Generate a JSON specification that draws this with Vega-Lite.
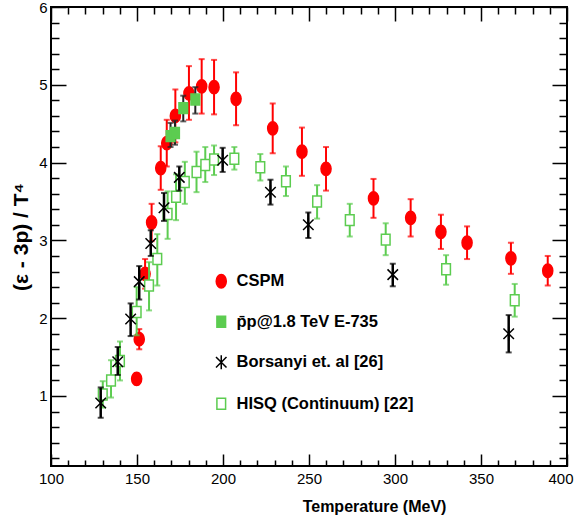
{
  "$schema": "https://vega.github.io/schema/vega-lite/v6.json",
  "width": 516,
  "height": 459,
  "autosize": {"type": "none"},
  "padding": {"left": 51, "top": 7, "right": 10, "bottom": 58},
  "background": "white",
  "config": {
    "view": {"stroke": "black", "strokeWidth": 2},
    "axis": {
      "grid": false,
      "domain": false,
      "tickColor": "black",
      "tickWidth": 1.5,
      "labelFont": "Liberation Sans, Arial",
      "labelFontSize": 15,
      "labelColor": "black",
      "labelFlush": false,
      "titleFont": "Liberation Sans, Arial",
      "titleFontWeight": "bold",
      "titleColor": "black",
      "titleFontSize": 16
    }
  },
  "datasets": {
    "cspm": [
      {"series": "CSPM", "T": 149.8, "v": 1.22, "lo": 1.15, "hi": 1.29},
      {"series": "CSPM", "T": 151.3, "v": 1.73, "lo": 1.60, "hi": 1.86},
      {"series": "CSPM", "T": 154.7, "v": 2.57, "lo": 2.38, "hi": 2.76},
      {"series": "CSPM", "T": 158.5, "v": 3.23, "lo": 2.99, "hi": 3.47},
      {"series": "CSPM", "T": 163.8, "v": 3.93, "lo": 3.65, "hi": 4.21},
      {"series": "CSPM", "T": 167.3, "v": 4.25, "lo": 3.95, "hi": 4.55},
      {"series": "CSPM", "T": 172.3, "v": 4.60, "lo": 4.26, "hi": 4.94},
      {"series": "CSPM", "T": 180.2, "v": 4.89, "lo": 4.55, "hi": 5.24},
      {"series": "CSPM", "T": 187.6, "v": 4.98, "lo": 4.63, "hi": 5.33},
      {"series": "CSPM", "T": 194.8, "v": 4.97, "lo": 4.62, "hi": 5.32},
      {"series": "CSPM", "T": 207.6, "v": 4.82, "lo": 4.48, "hi": 5.16},
      {"series": "CSPM", "T": 228.9, "v": 4.44, "lo": 4.12, "hi": 4.76},
      {"series": "CSPM", "T": 245.9, "v": 4.14, "lo": 3.83, "hi": 4.45},
      {"series": "CSPM", "T": 259.9, "v": 3.92, "lo": 3.64, "hi": 4.20},
      {"series": "CSPM", "T": 287.5, "v": 3.54, "lo": 3.29, "hi": 3.79},
      {"series": "CSPM", "T": 309.1, "v": 3.29, "lo": 3.05, "hi": 3.53},
      {"series": "CSPM", "T": 326.7, "v": 3.11, "lo": 2.89, "hi": 3.33},
      {"series": "CSPM", "T": 341.9, "v": 2.97, "lo": 2.76, "hi": 3.18},
      {"series": "CSPM", "T": 367.4, "v": 2.77, "lo": 2.57, "hi": 2.97},
      {"series": "CSPM", "T": 388.8, "v": 2.61, "lo": 2.42, "hi": 2.80}
    ],
    "e735": [
      {"series": "p̄p@1.8 TeV E-735", "T": 169.5, "v": 4.34, "lo": 4.20, "hi": 4.51},
      {"series": "p̄p@1.8 TeV E-735", "T": 172.1, "v": 4.38, "lo": 4.23, "hi": 4.54},
      {"series": "p̄p@1.8 TeV E-735", "T": 176.9, "v": 4.70, "lo": 4.53, "hi": 4.86},
      {"series": "p̄p@1.8 TeV E-735", "T": 183.9, "v": 4.81, "lo": 4.63, "hi": 4.97}
    ],
    "bors": [
      {"series": "Borsanyi et. al [26]", "T": 128.9, "v": 0.91, "lo": 0.72, "hi": 1.11},
      {"series": "Borsanyi et. al [26]", "T": 138.8, "v": 1.44, "lo": 1.27, "hi": 1.63},
      {"series": "Borsanyi et. al [26]", "T": 146.3, "v": 1.99, "lo": 1.77, "hi": 2.19},
      {"series": "Borsanyi et. al [26]", "T": 151.3, "v": 2.47, "lo": 2.24, "hi": 2.67},
      {"series": "Borsanyi et. al [26]", "T": 158.0, "v": 2.96, "lo": 2.80, "hi": 3.13},
      {"series": "Borsanyi et. al [26]", "T": 165.7, "v": 3.42, "lo": 3.25, "hi": 3.61},
      {"series": "Borsanyi et. al [26]", "T": 174.6, "v": 3.81, "lo": 3.64, "hi": 3.95},
      {"series": "Borsanyi et. al [26]", "T": 199.8, "v": 4.03, "lo": 3.88, "hi": 4.19},
      {"series": "Borsanyi et. al [26]", "T": 227.6, "v": 3.62, "lo": 3.46, "hi": 3.78},
      {"series": "Borsanyi et. al [26]", "T": 249.6, "v": 3.20, "lo": 3.03, "hi": 3.36},
      {"series": "Borsanyi et. al [26]", "T": 298.7, "v": 2.56, "lo": 2.41, "hi": 2.70},
      {"series": "Borsanyi et. al [26]", "T": 366.1, "v": 1.80, "lo": 1.56, "hi": 2.04}
    ],
    "hisq": [
      {"series": "HISQ (Continuum) [22]", "T": 130.1, "v": 1.02, "lo": 0.85, "hi": 1.19},
      {"series": "HISQ (Continuum) [22]", "T": 134.9, "v": 1.20, "lo": 0.98, "hi": 1.46},
      {"series": "HISQ (Continuum) [22]", "T": 140.1, "v": 1.45, "lo": 1.20, "hi": 1.70},
      {"series": "HISQ (Continuum) [22]", "T": 149.8, "v": 2.08, "lo": 1.78, "hi": 2.40},
      {"series": "HISQ (Continuum) [22]", "T": 157.0, "v": 2.42, "lo": 2.10, "hi": 2.72},
      {"series": "HISQ (Continuum) [22]", "T": 161.8, "v": 2.76, "lo": 2.42, "hi": 3.08},
      {"series": "HISQ (Continuum) [22]", "T": 167.8, "v": 3.34, "lo": 3.02, "hi": 3.63},
      {"series": "HISQ (Continuum) [22]", "T": 172.7, "v": 3.56, "lo": 3.26, "hi": 3.85},
      {"series": "HISQ (Continuum) [22]", "T": 177.8, "v": 3.75, "lo": 3.47, "hi": 4.01},
      {"series": "HISQ (Continuum) [22]", "T": 184.6, "v": 3.88, "lo": 3.62, "hi": 4.14},
      {"series": "HISQ (Continuum) [22]", "T": 189.7, "v": 3.97, "lo": 3.75, "hi": 4.20},
      {"series": "HISQ (Continuum) [22]", "T": 194.8, "v": 4.04, "lo": 3.84, "hi": 4.22},
      {"series": "HISQ (Continuum) [22]", "T": 206.6, "v": 4.05, "lo": 3.91, "hi": 4.20},
      {"series": "HISQ (Continuum) [22]", "T": 221.7, "v": 3.94, "lo": 3.77, "hi": 4.11},
      {"series": "HISQ (Continuum) [22]", "T": 236.6, "v": 3.76, "lo": 3.57, "hi": 3.95},
      {"series": "HISQ (Continuum) [22]", "T": 254.7, "v": 3.50, "lo": 3.28, "hi": 3.71},
      {"series": "HISQ (Continuum) [22]", "T": 273.7, "v": 3.26, "lo": 3.05, "hi": 3.47},
      {"series": "HISQ (Continuum) [22]", "T": 294.6, "v": 3.01, "lo": 2.81, "hi": 3.22},
      {"series": "HISQ (Continuum) [22]", "T": 329.7, "v": 2.63, "lo": 2.43, "hi": 2.81},
      {"series": "HISQ (Continuum) [22]", "T": 369.6, "v": 2.23, "lo": 2.02, "hi": 2.44}
    ]
  },
  "layer": [
    {
      "data": {"name": "cspm"},
      "mark": {"type": "point", "opacity": 0},
      "encoding": {
        "x": {"field": "T", "type": "quantitative", "scale": {"domain": [100, 400], "nice": false, "zero": false},
          "axis": {"orient": "bottom", "values": [100, 150, 200, 250, 300, 350, 400], "tickSize": 12, "offset": -12, "labelPadding": 5,
            "labelAlign": {"condition": {"test": "datum.value === 400", "value": "right"}, "value": "center"},
            "labelOffset": {"condition": {"test": "datum.value === 400", "value": 6}, "value": 0},
            "title": "Temperature (MeV)", "titleX": 323, "titleAlign": "center", "titlePadding": 12}},
        "y": {"field": "v", "type": "quantitative", "scale": {"domain": [0.1, 6], "nice": false, "zero": false},
          "axis": {"orient": "left", "values": [1, 2, 3, 4, 5, 6], "tickSize": 15, "offset": -15, "labelPadding": 4,
            "title": "(ε - 3p) / T⁴", "titleFontSize": 21, "titlePadding": 7}}
      }
    },
    {
      "data": {"name": "cspm"},
      "mark": {"type": "point", "opacity": 0},
      "encoding": {
        "x": {"field": "T", "type": "quantitative", "scale": {"domain": [100, 400], "nice": false, "zero": false},
          "axis": {"orient": "bottom", "values": [110, 120, 130, 140, 160, 170, 180, 190, 210, 220, 230, 240, 260, 270, 280, 290, 310, 320, 330, 340, 360, 370, 380, 390], "tickSize": 6, "offset": -6, "labels": false, "title": null}},
        "y": {"field": "v", "type": "quantitative", "scale": {"domain": [0.1, 6], "nice": false, "zero": false},
          "axis": {"orient": "left", "values": [0.2, 0.4, 0.6, 0.8, 1.2, 1.4, 1.6, 1.8, 2.2, 2.4, 2.6, 2.8, 3.2, 3.4, 3.6, 3.8, 4.2, 4.4, 4.6, 4.8, 5.2, 5.4, 5.6, 5.8], "tickSize": 8, "offset": -8, "labels": false, "title": null}}
      }
    },
    {
      "data": {"name": "cspm"},
      "mark": {"type": "point", "opacity": 0},
      "encoding": {
        "x": {"field": "T", "type": "quantitative", "scale": {"domain": [100, 400], "nice": false, "zero": false},
          "axis": {"orient": "top", "values": [100, 150, 200, 250, 300, 350, 400], "tickSize": 14, "offset": -14, "labels": false, "title": null}},
        "y": {"field": "v", "type": "quantitative", "scale": {"domain": [0.1, 6], "nice": false, "zero": false},
          "axis": {"orient": "right", "values": [1, 2, 3, 4, 5, 6], "tickSize": 15, "offset": -15, "labels": false, "title": null}}
      }
    },
    {
      "data": {"name": "cspm"},
      "mark": {"type": "point", "opacity": 0},
      "encoding": {
        "x": {"field": "T", "type": "quantitative", "scale": {"domain": [100, 400], "nice": false, "zero": false},
          "axis": {"orient": "top", "values": [110, 120, 130, 140, 160, 170, 180, 190, 210, 220, 230, 240, 260, 270, 280, 290, 310, 320, 330, 340, 360, 370, 380, 390], "tickSize": 7, "offset": -7, "labels": false, "title": null}},
        "y": {"field": "v", "type": "quantitative", "scale": {"domain": [0.1, 6], "nice": false, "zero": false},
          "axis": {"orient": "right", "values": [0.2, 0.4, 0.6, 0.8, 1.2, 1.4, 1.6, 1.8, 2.2, 2.4, 2.6, 2.8, 3.2, 3.4, 3.6, 3.8, 4.2, 4.4, 4.6, 4.8, 5.2, 5.4, 5.6, 5.8], "tickSize": 8, "offset": -8, "labels": false, "title": null}}
      }
    },
    {
      "data": {"name": "cspm"},
      "mark": {"type": "errorbar", "color": "#ff0000", "thickness": 2, "ticks": {"size": 6, "thickness": 2, "color": "#ff0000"}},
      "encoding": {
        "x": {"field": "T", "type": "quantitative", "scale": {"domain": [100, 400], "nice": false, "zero": false}, "axis": null},
        "y": {"field": "lo", "type": "quantitative", "scale": {"domain": [0.1, 6], "nice": false, "zero": false}, "axis": null},
        "y2": {"field": "hi"}
      }
    },
    {
      "data": {"name": "cspm"},
      "mark": {"type": "point", "opacity": 1, "size": 196, "strokeWidth": 1.5},
      "encoding": {
        "x": {"field": "T", "type": "quantitative", "scale": {"domain": [100, 400], "nice": false, "zero": false}, "axis": null},
        "y": {"field": "v", "type": "quantitative", "scale": {"domain": [0.1, 6], "nice": false, "zero": false}, "axis": null},
        "shape": {"field": "series", "type": "nominal", "scale": {"domain": ["CSPM", "p̄p@1.8 TeV E-735", "Borsanyi et. al [26]", "HISQ (Continuum) [22]"], "range": ["M-0.72,0A0.72,0.95 0 1,1 0.72,0A0.72,0.95 0 1,1 -0.72,0Z", "M-0.62,-0.78H0.62V0.78H-0.62Z", "M0,-1V1M-0.75,-0.75L0.75,0.75M-0.75,0.75L0.75,-0.75", "M-0.62,-0.78H0.62V0.78H-0.62Z"]},
          "legend": {"orient": "none", "legendX": 162, "legendY": 266, "title": null, "padding": 0, "rowPadding": 21.5, "labelOffset": 7, "symbolSize": 196, "symbolStrokeWidth": 1.5, "labelFont": "Liberation Sans, Arial", "labelFontSize": 16.5, "labelFontWeight": "bold", "labelColor": "black", "labelLimit": 400}},
        "fill": {"field": "series", "type": "nominal", "scale": {"domain": ["CSPM", "p̄p@1.8 TeV E-735", "Borsanyi et. al [26]", "HISQ (Continuum) [22]"], "range": ["#ff0000", "#5ccc50", "transparent", "white"]}},
        "stroke": {"field": "series", "type": "nominal", "scale": {"domain": ["CSPM", "p̄p@1.8 TeV E-735", "Borsanyi et. al [26]", "HISQ (Continuum) [22]"], "range": ["#ff0000", "#5ccc50", "black", "#5ccc50"]}}
      }
    },
    {
      "data": {"name": "e735"},
      "mark": {"type": "errorbar", "color": "#222222", "thickness": 2, "ticks": {"size": 6, "thickness": 2, "color": "#222222"}},
      "encoding": {
        "x": {"field": "T", "type": "quantitative", "scale": {"domain": [100, 400], "nice": false, "zero": false}, "axis": null},
        "y": {"field": "lo", "type": "quantitative", "scale": {"domain": [0.1, 6], "nice": false, "zero": false}, "axis": null},
        "y2": {"field": "hi"}
      }
    },
    {
      "data": {"name": "e735"},
      "mark": {"type": "point", "opacity": 1, "size": 196, "strokeWidth": 1.5},
      "encoding": {
        "x": {"field": "T", "type": "quantitative", "scale": {"domain": [100, 400], "nice": false, "zero": false}, "axis": null},
        "y": {"field": "v", "type": "quantitative", "scale": {"domain": [0.1, 6], "nice": false, "zero": false}, "axis": null},
        "shape": {"field": "series", "type": "nominal", "scale": {"domain": ["CSPM", "p̄p@1.8 TeV E-735", "Borsanyi et. al [26]", "HISQ (Continuum) [22]"], "range": ["M-0.72,0A0.72,0.95 0 1,1 0.72,0A0.72,0.95 0 1,1 -0.72,0Z", "M-0.62,-0.78H0.62V0.78H-0.62Z", "M0,-1V1M-0.75,-0.75L0.75,0.75M-0.75,0.75L0.75,-0.75", "M-0.62,-0.78H0.62V0.78H-0.62Z"]}},
        "fill": {"field": "series", "type": "nominal", "scale": {"domain": ["CSPM", "p̄p@1.8 TeV E-735", "Borsanyi et. al [26]", "HISQ (Continuum) [22]"], "range": ["#ff0000", "#5ccc50", "transparent", "white"]}},
        "stroke": {"field": "series", "type": "nominal", "scale": {"domain": ["CSPM", "p̄p@1.8 TeV E-735", "Borsanyi et. al [26]", "HISQ (Continuum) [22]"], "range": ["#ff0000", "#5ccc50", "black", "#5ccc50"]}}
      }
    },
    {
      "data": {"name": "hisq"},
      "mark": {"type": "errorbar", "color": "#5ccc50", "thickness": 2, "ticks": {"size": 6, "thickness": 2, "color": "#5ccc50"}},
      "encoding": {
        "x": {"field": "T", "type": "quantitative", "scale": {"domain": [100, 400], "nice": false, "zero": false}, "axis": null},
        "y": {"field": "lo", "type": "quantitative", "scale": {"domain": [0.1, 6], "nice": false, "zero": false}, "axis": null},
        "y2": {"field": "hi"}
      }
    },
    {
      "data": {"name": "hisq"},
      "mark": {"type": "point", "opacity": 1, "size": 196, "strokeWidth": 1.5},
      "encoding": {
        "x": {"field": "T", "type": "quantitative", "scale": {"domain": [100, 400], "nice": false, "zero": false}, "axis": null},
        "y": {"field": "v", "type": "quantitative", "scale": {"domain": [0.1, 6], "nice": false, "zero": false}, "axis": null},
        "shape": {"field": "series", "type": "nominal", "scale": {"domain": ["CSPM", "p̄p@1.8 TeV E-735", "Borsanyi et. al [26]", "HISQ (Continuum) [22]"], "range": ["M-0.72,0A0.72,0.95 0 1,1 0.72,0A0.72,0.95 0 1,1 -0.72,0Z", "M-0.62,-0.78H0.62V0.78H-0.62Z", "M0,-1V1M-0.75,-0.75L0.75,0.75M-0.75,0.75L0.75,-0.75", "M-0.62,-0.78H0.62V0.78H-0.62Z"]}},
        "fill": {"field": "series", "type": "nominal", "scale": {"domain": ["CSPM", "p̄p@1.8 TeV E-735", "Borsanyi et. al [26]", "HISQ (Continuum) [22]"], "range": ["#ff0000", "#5ccc50", "transparent", "white"]}},
        "stroke": {"field": "series", "type": "nominal", "scale": {"domain": ["CSPM", "p̄p@1.8 TeV E-735", "Borsanyi et. al [26]", "HISQ (Continuum) [22]"], "range": ["#ff0000", "#5ccc50", "black", "#5ccc50"]}}
      }
    },
    {
      "data": {"name": "bors"},
      "mark": {"type": "errorbar", "color": "black", "thickness": 2.5, "ticks": {"size": 6, "thickness": 2, "color": "black"}},
      "encoding": {
        "x": {"field": "T", "type": "quantitative", "scale": {"domain": [100, 400], "nice": false, "zero": false}, "axis": null},
        "y": {"field": "lo", "type": "quantitative", "scale": {"domain": [0.1, 6], "nice": false, "zero": false}, "axis": null},
        "y2": {"field": "hi"}
      }
    },
    {
      "data": {"name": "bors"},
      "mark": {"type": "point", "opacity": 1, "size": 196, "strokeWidth": 1.5},
      "encoding": {
        "x": {"field": "T", "type": "quantitative", "scale": {"domain": [100, 400], "nice": false, "zero": false}, "axis": null},
        "y": {"field": "v", "type": "quantitative", "scale": {"domain": [0.1, 6], "nice": false, "zero": false}, "axis": null},
        "shape": {"field": "series", "type": "nominal", "scale": {"domain": ["CSPM", "p̄p@1.8 TeV E-735", "Borsanyi et. al [26]", "HISQ (Continuum) [22]"], "range": ["M-0.72,0A0.72,0.95 0 1,1 0.72,0A0.72,0.95 0 1,1 -0.72,0Z", "M-0.62,-0.78H0.62V0.78H-0.62Z", "M0,-1V1M-0.75,-0.75L0.75,0.75M-0.75,0.75L0.75,-0.75", "M-0.62,-0.78H0.62V0.78H-0.62Z"]}},
        "fill": {"field": "series", "type": "nominal", "scale": {"domain": ["CSPM", "p̄p@1.8 TeV E-735", "Borsanyi et. al [26]", "HISQ (Continuum) [22]"], "range": ["#ff0000", "#5ccc50", "transparent", "white"]}},
        "stroke": {"field": "series", "type": "nominal", "scale": {"domain": ["CSPM", "p̄p@1.8 TeV E-735", "Borsanyi et. al [26]", "HISQ (Continuum) [22]"], "range": ["#ff0000", "#5ccc50", "black", "#5ccc50"]}}
      }
    }
  ],
  "resolve": {"axis": {"x": "independent", "y": "independent"}}
}
